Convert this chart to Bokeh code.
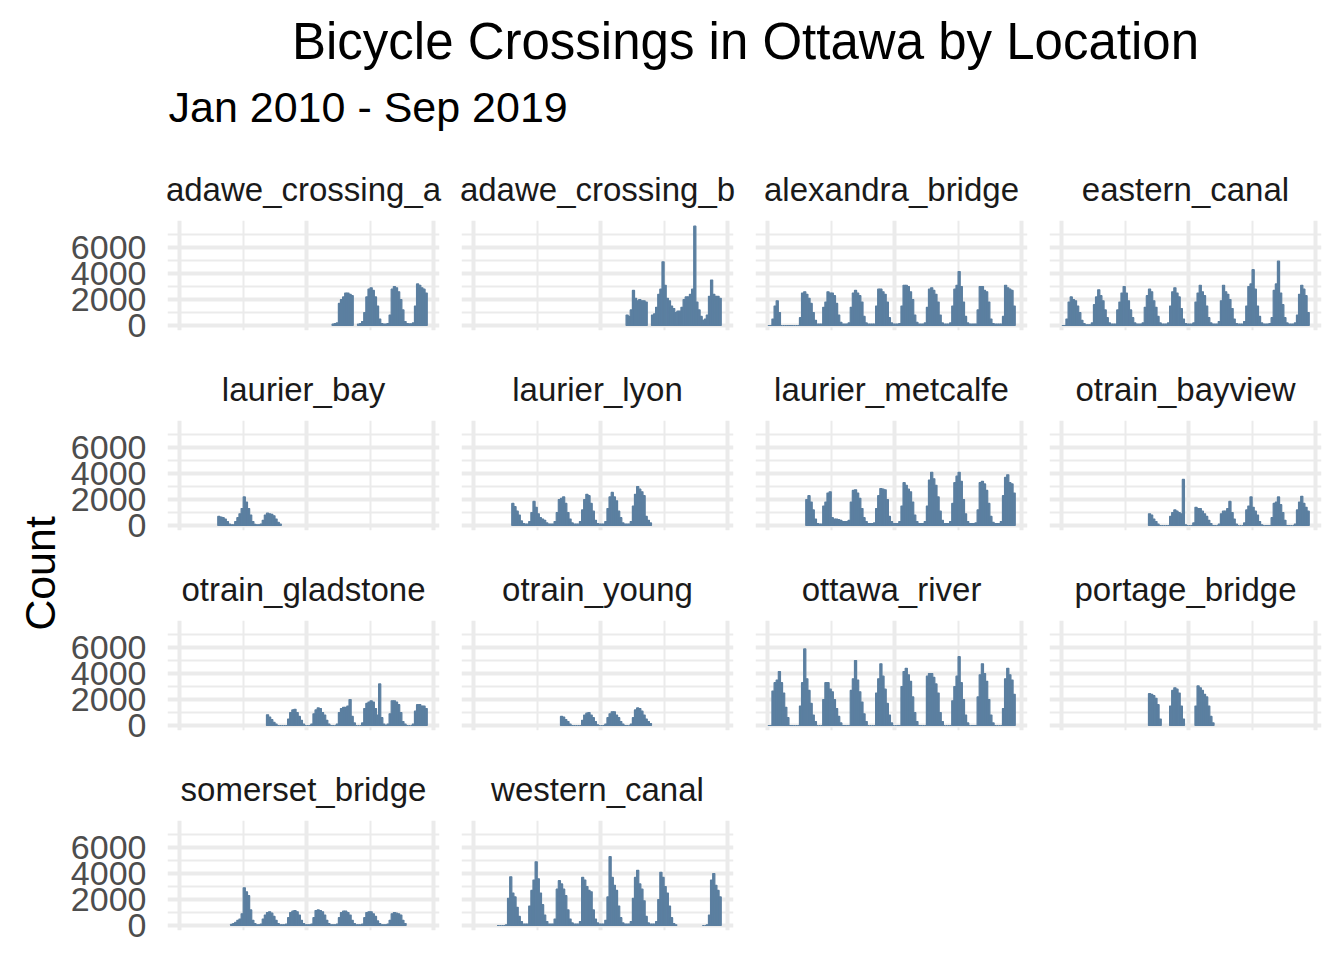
import numpy as np
import pandas as pd
from bokeh.plotting import figure
from bokeh.layouts import row, column
from bokeh.models import Range1d, FixedTicker, Grid, LinearAxis, BasicTickFormatter
from bokeh.core.properties import value
from bokeh.embed import file_html
from bokeh.resources import INLINE

N = None

TITLE = "Bicycle Crossings in Ottawa by Location"
SUBTITLE = "Jan 2010 - Sep 2019"
Y_LABEL = "Count"
Y_TICKS = [0, 2000, 4000, 6000]
Y_MINOR = [1000, 3000, 5000, 7000]

locations = ["adawe_crossing_a", "adawe_crossing_b", "alexandra_bridge", "eastern_canal",
             "laurier_bay", "laurier_lyon", "laurier_metcalfe", "otrain_bayview",
             "otrain_gladstone", "otrain_young", "ottawa_river", "portage_bridge",
             "somerset_bridge", "western_canal"]

# monthly peak counts, Jan 2010 .. Sep 2019 (None = no data)
adawe_crossing_a = ([N] * 72 +
    [100, 150, 200, 1700, 2000, 2200, 2500, 2500, 2400, 2300, N, N] +
    [100, 150, 300, 1000, 2200, 2800, 2900, 2700, 2200, 1500, 500, 150] +
    [100, 100, 150, 800, 2800, 3000, 2900, 2600, 2000, 1200, 300, 150] +
    [120, 120, 200, 1500, 3200, 3100, 2900, 2800, 2500])

adawe_crossing_b = ([N] * 72 +
    [800, 700, 1200, 2700, 2100, 1900, 2000, 1900, 1900, 1800, N, N] +
    [800, 900, 1400, 2400, 2800, 4900, 3100, 2100, 1900, 1500, 1300, 1000] +
    [1100, 1100, 1400, 2000, 2200, 2200, 2400, 2800, 7650, 1800, 1200, 700] +
    [400, 500, 800, 2250, 3500, 2400, 2250, 2250, 2100])

alexandra_bridge = (
    [0, 0, 500, 1500, 1900, 1000, 0, 0, 0, 0, 0, 0] +
    [0, 0, 0, 600, 2500, 2600, 2400, 2100, 1700, 1000, 400, 100] +
    [100, 100, 1400, 1800, 2600, 2500, 2500, 2300, 1700, 800, 250, 100] +
    [100, 100, 200, 1400, 2500, 2700, 2500, 2300, 1800, 700, 200, 100] +
    [100, 100, 100, 1500, 2800, 2800, 2600, 2400, 1800, 600, 200, 100] +
    [100, 100, 150, 1500, 3100, 3100, 3000, 2600, 2000, 800, 250, 100] +
    [100, 100, 200, 1400, 2800, 2900, 2700, 2400, 1800, 800, 200, 100] +
    [100, 100, 200, 1500, 2800, 3100, 4150, 3000, 1800, 700, 200, 100] +
    [100, 100, 100, 1200, 3000, 3000, 2700, 2600, 1800, 500, 150, 100] +
    [100, 100, 100, 700, 3100, 2900, 2800, 2700, 1500])

eastern_canal = (
    [0, 0, 500, 1800, 2200, 2000, 1900, 1500, 1000, 400, 150, 50] +
    [50, 50, 200, 1600, 2200, 2750, 2300, 1900, 1200, 600, 200, 100] +
    [100, 100, 1200, 1800, 2500, 3000, 2500, 1900, 1200, 600, 200, 100] +
    [100, 100, 200, 1400, 2300, 2800, 2600, 1900, 1400, 700, 200, 100] +
    [100, 100, 200, 1500, 2600, 2900, 2500, 2200, 1300, 500, 150, 100] +
    [100, 100, 200, 1800, 2500, 3100, 2600, 2300, 1500, 600, 200, 100] +
    [100, 100, 300, 1900, 3100, 2600, 2400, 2000, 1300, 500, 150, 100] +
    [100, 100, 300, 1500, 3000, 3200, 4300, 2800, 1500, 700, 200, 100] +
    [100, 100, 150, 600, 2700, 3200, 4950, 2500, 1600, 600, 200, 100] +
    [100, 100, 200, 800, 2400, 3100, 2800, 2300, 1000])

laurier_bay = ([N] * 12 +
    [N, N, N, N, N, N, 700, 650, 600, 500, 300, 100] +
    [50, 50, 300, 600, 900, 1300, 2200, 1800, 1300, 800, 300, 80] +
    [50, 50, 100, 400, 800, 950, 900, 850, 750, 500, 250, 100] +
    [N] * 69)

laurier_lyon = ([N] * 12 +
    [N, N, N, N, N, N, 1700, 1450, 1100, 800, 350, 150] +
    [100, 100, 300, 1000, 1850, 1400, 900, 600, 500, 400, 200, 100] +
    [100, 100, 300, 1000, 2000, 2100, 2200, 1700, 1000, 500, 200, 100] +
    [100, 100, 300, 1200, 2000, 2400, 2300, 1700, 1100, 400, 150, 100] +
    [100, 100, 300, 1300, 2200, 2550, 2200, 1900, 1100, 600, 200, 100] +
    [100, 100, 300, 1500, 2400, 3000, 2800, 2600, 2300, 700, 400, 200] +
    [N] * 33)

laurier_metcalfe = ([N] * 12 +
    [N, N, N, N, N, N, 2000, 2300, 1800, 1200, 500, 150] +
    [100, 100, 1500, 1800, 2500, 2600, 600, 500, 500, 450, 400, 300] +
    [300, 300, 400, 1800, 2700, 2750, 2500, 2100, 1300, 600, 300, 150] +
    [150, 150, 200, 1300, 2300, 2850, 2800, 2750, 2000, 700, 300, 150] +
    [150, 150, 300, 1500, 3300, 3100, 2800, 2600, 1800, 800, 300, 150] +
    [150, 150, 300, 1500, 3500, 4100, 3600, 3100, 2200, 1100, 400, 150] +
    [150, 150, 300, 1700, 3300, 3800, 4100, 3400, 2000, 900, 300, 150] +
    [150, 150, 200, 1200, 3300, 3400, 3200, 2700, 1700, 700, 250, 150] +
    [150, 150, 300, 2300, 3700, 3900, 3300, 3200, 2500])

otrain_bayview = ([N] * 36 +
    [N, N, N, N, N, 900, 800, 500, 300, 100, 0, 0] +
    [0, 0, 0, 700, 1000, 1200, 1100, 1000, 900, 3550, 50, 0] +
    [0, 0, 200, 1400, 1300, 1300, 1100, 900, 700, 400, 150, 0] +
    [0, 0, 100, 900, 1100, 1100, 1300, 1850, 1000, 500, 100, 0] +
    [0, 0, 200, 1200, 1500, 2200, 1400, 1100, 800, 300, 50, 0] +
    [0, 0, 0, 600, 1700, 1800, 2200, 1600, 1000, 400, 0, 0] +
    [0, 0, 100, 1200, 1800, 2250, 1700, 1400, 1100])

otrain_gladstone = ([N] * 36 +
    [N, N, N, N, N, 825, 650, 450, 250, 100, 0, 0] +
    [0, 0, 0, 500, 1000, 1200, 1250, 1000, 700, 400, 100, 0] +
    [0, 0, 100, 900, 1200, 1350, 1300, 1000, 800, 400, 100, 0] +
    [0, 0, 100, 1000, 1300, 1400, 1400, 1500, 2000, 700, 200, 0] +
    [0, 0, 200, 1300, 1700, 1800, 1900, 1800, 1300, 800, 3200, 600] +
    [100, 0, 100, 900, 1900, 1900, 1800, 1600, 1000, 300, 100, 0] +
    [0, 0, 100, 1100, 1600, 1600, 1500, 1500, 1300])

otrain_young = ([N] * 36 +
    [N, N, N, N, N, 700, 650, 450, 300, 100, 0, 0] +
    [0, 0, 0, 400, 800, 950, 1000, 800, 600, 300, 50, 0] +
    [0, 0, 100, 600, 900, 1050, 1050, 800, 600, 300, 100, 0] +
    [0, 0, 100, 600, 1200, 1350, 1300, 1100, 800, 500, 300, 150] +
    [N] * 33)

ottawa_river = (
    [0, 0, 2650, 3300, 3500, 4150, 3300, 2500, 1400, 600, 0, 0] +
    [0, 0, 0, 1500, 3300, 5900, 3600, 2700, 1700, 800, 300, 0] +
    [0, 0, 2000, 3300, 3300, 2800, 2600, 2000, 1300, 700, 200, 0] +
    [0, 0, 0, 2700, 3600, 5000, 3500, 2600, 1800, 900, 300, 0] +
    [0, 0, 0, 2500, 3600, 4750, 3800, 2800, 1700, 800, 200, 0] +
    [0, 0, 0, 3000, 4150, 4400, 3900, 3400, 2200, 1000, 300, 0] +
    [0, 0, 0, 3800, 4000, 4000, 3700, 3200, 2500, 1000, 300, 0] +
    [0, 0, 0, 1900, 3000, 3800, 5300, 3300, 2000, 800, 200, 0] +
    [0, 0, 0, 2200, 3900, 4750, 4000, 3400, 2000, 800, 200, 0] +
    [0, 0, 0, 1300, 3600, 4400, 3900, 3500, 2400])

portage_bridge = ([N] * 36 +
    [N, N, N, N, N, 2450, 2400, 2300, 2100, 1600, 500, N] +
    [N, N, N, 1500, 2700, 2900, 2800, 2500, 1500, 500, N, N] +
    [N, N, N, 1500, 3050, 2900, 2700, 2400, 2200, 1500, 700, 200] +
    [N] * 45)

somerset_bridge = ([N] * 24 +
    [80, 150, 250, 400, 500, 900, 2900, 2600, 2300, 1200, 400, 150] +
    [50, 50, 100, 500, 800, 1000, 1050, 950, 700, 400, 150, 50] +
    [50, 50, 100, 600, 1000, 1100, 1150, 1050, 800, 400, 150, 50] +
    [50, 50, 100, 600, 1150, 1200, 1150, 1050, 800, 400, 150, 50] +
    [50, 50, 100, 600, 1000, 1100, 1100, 1000, 800, 400, 150, 50] +
    [50, 50, 100, 600, 1000, 1050, 1050, 900, 700, 350, 150, 50] +
    [50, 50, 100, 400, 900, 1000, 950, 900, 800, 400, 150, N] +
    [N] * 9)

western_canal = (
    [N] * 11 + [0] +
    [0, 0, 0, 50, 2100, 3750, 2500, 2200, 1400, 700, 300, 100] +
    [100, 100, 1500, 2700, 3500, 4900, 3600, 2500, 1600, 800, 300, 100] +
    [100, 100, 500, 2800, 3450, 3200, 2800, 2300, 1200, 500, 200, 100] +
    [100, 100, 300, 3700, 3500, 3000, 2700, 2600, 1200, 500, 200, 100] +
    [100, 100, 400, 2200, 5300, 3700, 3100, 2700, 1500, 600, 200, 100] +
    [100, 100, 300, 2100, 3700, 4250, 3200, 2800, 1900, 700, 200, 100] +
    [100, 100, 300, 2000, 4100, 3700, 3000, 2500, 1500, 600, 150, 50] +
    [N] * 12 +
    [0, 0, 50, 800, 3500, 4000, 3100, 2700, 2200])

series = {
    "adawe_crossing_a": adawe_crossing_a, "adawe_crossing_b": adawe_crossing_b,
    "alexandra_bridge": alexandra_bridge, "eastern_canal": eastern_canal,
    "laurier_bay": laurier_bay, "laurier_lyon": laurier_lyon,
    "laurier_metcalfe": laurier_metcalfe, "otrain_bayview": otrain_bayview,
    "otrain_gladstone": otrain_gladstone, "otrain_young": otrain_young,
    "ottawa_river": ottawa_river, "portage_bridge": portage_bridge,
    "somerset_bridge": somerset_bridge, "western_canal": western_canal,
}

DAY = 86400000.0


def ms(s):
    return pd.Timestamp(s).value / 1e6


month_starts = pd.date_range("2010-01-01", "2019-09-01", freq="MS")
x_centers = [ms(m) + 15 * DAY for m in month_starts]

X0, X1 = ms("2010-01-01"), ms("2019-09-30")
pad = 0.05 * (X1 - X0)
Y_MAX = 7700
FONT = "Liberation Sans"
LINE = "#5B7FA0"
GRID = "#EBEBEB"

x_major = [ms("2010-01-01"), ms("2015-01-01"), ms("2020-01-01")]
x_minor = [ms("2012-07-02"), ms("2017-07-02")]


def make_panel(name, vals, col):
    left = 98 if col == 0 else 11
    right = 11 if col < 3 else 8
    p = figure(frame_width=272, frame_height=110,
               x_range=Range1d(X0 - pad, X1 + pad),
               y_range=Range1d(-0.05 * Y_MAX, 1.05 * Y_MAX),
               x_axis_location=None, y_axis_location=None,
               toolbar_location=None, output_backend="svg",
               min_border_left=left, min_border_right=right,
               min_border_top=70, min_border_bottom=20,
               title=name)
    p.outline_line_color = None
    p.grid.visible = False
    p.title.align = "center"
    p.title.text_font = FONT
    p.title.text_font_size = "33px"
    p.title.text_font_style = "normal"
    p.title.text_color = "#1A1A1A"
    p.title.standoff = 25

    xg = Grid(dimension=0, ticker=FixedTicker(ticks=x_major, minor_ticks=x_minor),
              grid_line_color=GRID, grid_line_width=4,
              minor_grid_line_color=GRID, minor_grid_line_width=2)
    yg = Grid(dimension=1, ticker=FixedTicker(ticks=Y_TICKS, minor_ticks=Y_MINOR),
              grid_line_color=GRID, grid_line_width=4,
              minor_grid_line_color=GRID, minor_grid_line_width=2)
    p.add_layout(xg)
    p.add_layout(yg)

    if col == 0:
        ax = LinearAxis(ticker=FixedTicker(ticks=Y_TICKS),
                        formatter=BasicTickFormatter(use_scientific=False))
        ax.axis_line_color = None
        ax.major_tick_line_color = None
        ax.minor_tick_line_color = None
        ax.major_tick_out = 0
        ax.major_tick_in = 0
        ax.major_label_standoff = 21
        ax.major_label_text_font = FONT
        ax.major_label_text_font_size = "34px"
        ax.major_label_text_color = "#4D4D4D"
        p.add_layout(ax, "left")

    xs = [x for x, v in zip(x_centers, vals) if v is not None]
    ys = [v for v in vals if v is not None]
    p.vbar(x=xs, top=ys, bottom=0, width=31 * DAY,
           fill_color=LINE, line_color=LINE, line_width=1.2)
    return p


panels = [make_panel(n, series[n], i % 4) for i, n in enumerate(locations)]
rows = [row(panels[i:i + 4]) for i in range(0, len(panels), 4)]


def blank(w, h):
    f = figure(width=w, height=h, x_range=Range1d(0, w), y_range=Range1d(0, h),
               x_axis_location=None, y_axis_location=None,
               toolbar_location=None, output_backend="svg", min_border=0)
    f.outline_line_color = None
    f.grid.visible = False
    return f


header = blank(1340, 150)
header.text(x=[745], y=[109], text=[TITLE], text_align="center", text_baseline="alphabetic",
            text_font=value(FONT), text_font_size="51px", text_color="black")
header.text(x=[168], y=[44], text=[SUBTITLE], text_align="left", text_baseline="alphabetic",
            text_font=value(FONT), text_font_size="43px", text_color="black")

count_fig = blank(67, 800)
count_fig.text(x=[39], y=[377], text=[Y_LABEL], angle=np.pi / 2, text_align="center",
               text_baseline="middle", text_font=value(FONT), text_font_size="43px",
               text_color="black")

layout = column(header, row(count_fig, column(*rows)))

open("out.html", "w").write(file_html(layout, INLINE))
